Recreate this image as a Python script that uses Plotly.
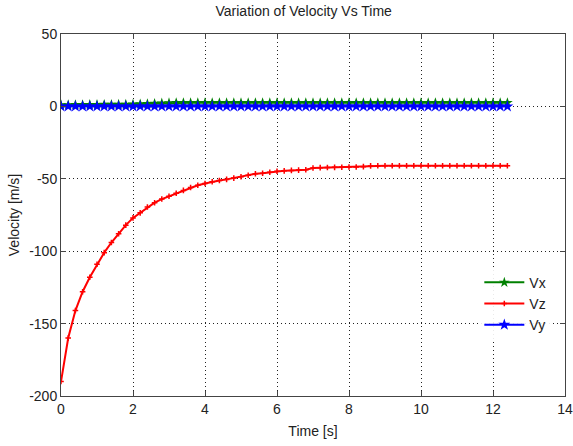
import plotly.graph_objects as go

time = [0.0, 0.2, 0.4, 0.6, 0.8, 1.0, 1.2, 1.4, 1.6, 1.8, 2.0, 2.2, 2.4, 2.6, 2.8, 3.0,
        3.2, 3.4, 3.6, 3.8, 4.0, 4.2, 4.4, 4.6, 4.8, 5.0, 5.2, 5.4, 5.6, 5.8, 6.0, 6.2,
        6.4, 6.6, 6.8, 7.0, 7.2, 7.4, 7.6, 7.8, 8.0, 8.2, 8.4, 8.6, 8.8, 9.0, 9.2, 9.4,
        9.6, 9.8, 10.0, 10.2, 10.4, 10.6, 10.8, 11.0, 11.2, 11.4, 11.6, 11.8, 12.0, 12.2, 12.4]

vz = [-190, -160, -141, -128, -118, -109, -101, -94, -88, -82, -77, -73.5, -69.5, -66.5,
      -64, -62, -60, -58, -56, -54.5, -53.2, -52, -51.2, -50.4, -49.5, -48.6, -47.5, -46.5,
      -46.2, -45.5, -44.8, -44.5, -44.2, -44, -43.7, -42.5, -42.3, -42.2, -42.1, -42, -41.9,
      -41.8, -41.6, -41.1, -41, -41, -41, -41, -41, -41, -41, -41, -41, -41, -41, -41, -41,
      -41, -41, -41, -41, -41, -41]

vx = [1.0, 1.0, 1.1, 1.1, 1.2, 1.2, 1.3, 1.3, 1.4, 1.4, 1.5, 1.6, 1.8, 2.0, 2.2, 2.4,
      2.5, 2.5, 2.5, 2.5, 2.5, 2.5, 2.5, 2.5, 2.5, 2.5, 2.5, 2.5, 2.5, 2.5, 2.5, 2.5,
      2.5, 2.5, 2.5, 2.5, 2.5, 2.5, 2.5, 2.5, 2.5, 2.5, 2.5, 2.5, 2.5, 2.5, 2.5, 2.5,
      2.5, 2.5, 2.5, 2.5, 2.5, 2.5, 2.5, 2.5, 2.5, 2.5, 2.5, 2.5, 2.5, 2.5, 2.5]

vy = [0.0, 0.0, 0.0, 0.0, 0.0, 0.0, 0.0, 0.0, 0.0, 0.0, 0.0, 0.0, 0.0, 0.0, 0.0, 0.0,
      0.0, 0.0, 0.0, 0.0, 0.0, 0.0, 0.0, 0.0, 0.0, 0.0, 0.0, 0.0, 0.0, 0.0, 0.0, 0.0,
      0.0, 0.0, 0.0, 0.0, 0.0, 0.0, 0.0, 0.0, 0.0, 0.0, 0.0, 0.0, 0.0, 0.0, 0.0, 0.0,
      0.0, 0.0, 0.0, 0.0, 0.0, 0.0, 0.0, 0.0, 0.0, 0.0, 0.0, 0.0, 0.0, 0.0, 0.0]

x_ticks = [0, 2, 4, 6, 8, 10, 12, 14]
y_ticks = [50, 0, -50, -100, -150, -200]
y_labels = ["50", "0", "-50", "-100", "-150", "-200"]

font = "Liberation Sans, Arial, sans-serif"
fs = 14

fig = go.Figure()
fig.add_trace(go.Scatter(x=time, y=vx, name="Vx", mode="lines+markers",
                         line=dict(color="#008000", width=2),
                         marker=dict(symbol="star", size=8, color="#008000")))
fig.add_trace(go.Scatter(x=time, y=vz, name="Vz", mode="lines+markers",
                         line=dict(color="#ff0000", width=2),
                         marker=dict(symbol="cross-thin", size=4,
                                     line=dict(color="#ff0000", width=1.5))))
fig.add_trace(go.Scatter(x=time, y=vy, name="Vy", mode="lines+markers",
                         line=dict(color="#0000ff", width=2),
                         marker=dict(symbol="star", size=9, color="#0000ff")))

axis_common = dict(showline=True, linecolor="#444", linewidth=1, mirror="ticks",
                   ticks="inside", ticklen=5, tickcolor="#444", automargin=False,
                   showgrid=True, gridcolor="#222", griddash="1px,3px", gridwidth=1,
                   zeroline=False, tickfont=dict(size=fs, color="#222", family=font))

fig.update_xaxes(range=[0, 14], tickvals=x_ticks, **axis_common,
                 title=dict(text="Time [s]", font=dict(size=fs, color="#222", family=font),
                            standoff=10))
fig.update_yaxes(range=[-200, 50], tickvals=y_ticks, ticktext=y_labels, **axis_common,
                 title=dict(text="Velocity [m/s]", font=dict(size=fs, color="#222", family=font),
                            standoff=6))

fig.update_layout(
    width=573, height=446,
    margin=dict(l=61, r=8, t=34, b=50),
    paper_bgcolor="white", plot_bgcolor="white",
    title=dict(text="Variation of Velocity Vs Time", x=0.53, xanchor="center",
               y=0.985, yanchor="top", font=dict(size=fs, color="#222", family=font)),
    legend=dict(x=0.83, y=0.357, xanchor="left", yanchor="top",
                bgcolor="rgba(255,255,255,0.9)", borderwidth=0,
                font=dict(size=fs, color="#222", family=font), itemwidth=40),
    showlegend=True,
)

fig.write_html("out.html", config={"displayModeBar": False},
               post_script="document.body.style.margin='0';document.body.style.overflow='hidden';")
